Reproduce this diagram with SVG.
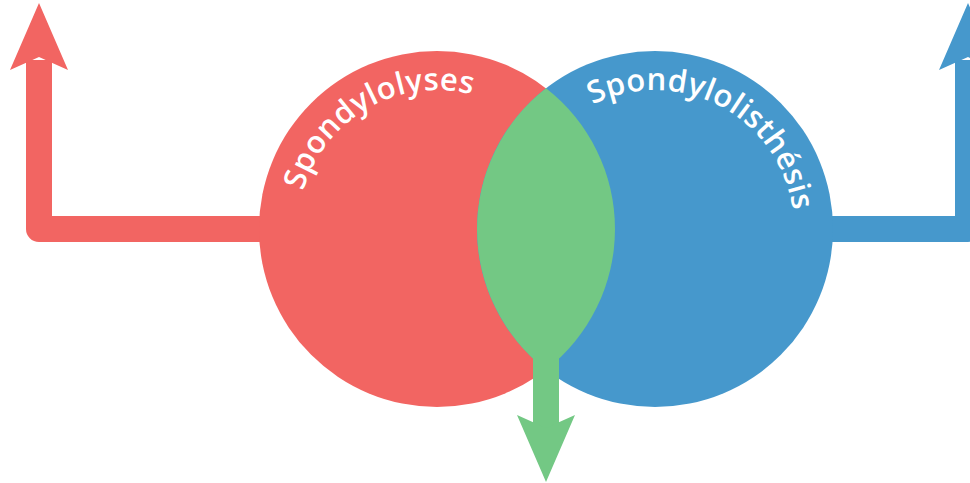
<svg xmlns="http://www.w3.org/2000/svg" width="970" height="483" viewBox="0 0 970 483">
<style>
.shaft{fill:none;stroke-width:26;stroke-linejoin:round;stroke-linecap:butt}
.lbl{font-family:"Open Sans","Noto Sans","DejaVu Sans",sans-serif;font-size:31px;font-weight:600;fill:#ffffff;letter-spacing:0.3px}
</style>
<defs>
<path id="arcRed" d="M 298 229 A 139 139 0 0 1 576 229"/>
<path id="arcBlue" d="M 516 229 A 139 139 0 0 1 794 229"/>
</defs>
<g id="connectors">
<g id="arrow-red">
<path class="shaft" stroke="#F26562" d="M 280 229 H 39 V 60"/>
<polygon fill="#F26562" points="39,3 68,70 39,57 10,70"/>
</g>
<g id="arrow-blue">
<path class="shaft" stroke="#4698CC" d="M 810 229 H 968 V 60"/>
<polygon fill="#4698CC" points="968,3 997,70 968,57 939,70"/>
</g>
</g>
<g id="node-spondylolyses">
<circle cx="437" cy="229" r="178" fill="#F26562"/>
<text class="lbl"><textPath href="#arcRed" startOffset="33.5%" text-anchor="middle">Spondylolyses</textPath></text>
</g>
<g id="node-spondylolisthesis">
<circle cx="655" cy="229" r="178" fill="#4698CC"/>
<text class="lbl"><textPath href="#arcBlue" startOffset="65.5%" text-anchor="middle">Spondylolisthésis</textPath></text>
</g>
<g id="node-intersection">
<path fill="#73C884" d="M 546 88.3 A 178 178 0 0 1 546 369.7 A 178 178 0 0 1 546 88.3 Z"/>
</g>
<g id="connector-green">
<path class="shaft" stroke="#73C884" d="M 546 340 V 428"/>
<polygon fill="#73C884" points="546,482 575,415 546,428 517,415"/>
</g>
</svg>
